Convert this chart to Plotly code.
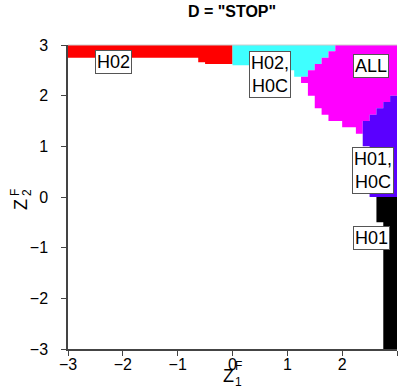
import plotly.graph_objects as go

# ---------------- data ----------------
title_text = 'D = "STOP"'
tick_vals = [-3, -2, -1, 0, 1, 2, 3]
tick_text = ["\u22123", "\u22122", "\u22121", "0", "1", "2", "3"]

region_names = ["H02", "H02,<br>H0C", "ALL", "H01,<br>H0C", "H01"]
region_colors = ["#ff0000", "#3fffff", "#ff00ff", "#5a00ff", "#000000"]

# region boundaries (Z1, Z2) as step outlines
h02_x = [-3, 0, 0, -0.5, -0.5, -0.625, -0.625, -3]
h02_y = [3, 3, 2.625, 2.625, 2.66, 2.66, 2.75, 2.75]

h02c_x = [0, 1.875, 1.875, 1.75, 1.75, 1.625, 1.625, 1.5, 1.5, 1.375, 1.375, 1.25,
          1.25, 1.125, 1.125, 0.375, 0.375, 0]
h02c_y = [3, 3, 2.875, 2.875, 2.75, 2.75, 2.625, 2.625, 2.5, 2.5, 2.375, 2.375,
          2.375, 2.375, 2.5, 2.5, 2.6, 2.6]

all_x = [1.875, 3, 3, 2.875, 2.875, 2.75, 2.75, 2.625, 2.625, 2.5, 2.5, 2.375, 2.375,
         2.25, 2.25, 2.0, 2.0, 1.75, 1.75, 1.625, 1.625, 1.5, 1.5, 1.375, 1.375, 1.25,
         1.25, 1.375, 1.375, 1.5, 1.5, 1.625, 1.625, 1.75, 1.75, 1.875]
all_y = [3, 3, 2.0, 2.0, 1.875, 1.875, 1.75, 1.75, 1.625, 1.625, 1.5, 1.5, 1.25,
         1.25, 1.375, 1.375, 1.5, 1.5, 1.625, 1.625, 1.75, 1.75, 2.0, 2.0, 2.25, 2.25,
         2.375, 2.375, 2.5, 2.5, 2.625, 2.625, 2.75, 2.75, 2.875, 2.875]

h01c_x = [2.375, 2.5, 2.5, 2.625, 2.625, 2.75, 2.75, 2.875, 2.875, 3, 3, 2.5, 2.5, 2.375]
h01c_y = [1.5, 1.5, 1.625, 1.625, 1.75, 1.75, 1.875, 1.875, 2.0, 2.0, 0, 0, 1.0, 1.0]

h01_x = [2.625, 3, 3, 2.75, 2.75, 2.625]
h01_y = [0, 0, -3, -3, -0.5, -0.5]

regions_x = [h02_x, h02c_x, all_x, h01c_x, h01_x]
regions_y = [h02_y, h02c_y, all_y, h01c_y, h01_y]

# ---------------- figure ----------------
FONT = "Liberation Sans, Arial, Helvetica, sans-serif"
W, H = 401, 389
L, R, T, B = 68, 4, 45, 40
PW, PH = W - L - R, H - T - B


def px(xp):
    return (xp - L) / PW


def py(yp):
    return (H - B - yp) / PH


fig = go.Figure()
for rx, ry, col in zip(regions_x, regions_y, region_colors):
    fig.add_trace(go.Scatter(x=rx, y=ry, mode="lines", fill="toself",
                             fillcolor=col, line=dict(width=0, color=col),
                             hoverinfo="skip", showlegend=False))

label_pos = [(-2.17, 2.67), (0.69, 2.42), (2.52, 2.59), (2.57, 0.515), (2.53, -0.80)]
for name, (lx, ly) in zip(region_names, label_pos):
    fig.add_annotation(x=lx, y=ly, xref="x", yref="y", text=name, showarrow=False,
                       xanchor="center", yanchor="middle",
                       font=dict(family=FONT, size=18, color="black"),
                       bgcolor="white", bordercolor="#555", borderwidth=1, borderpad=1)


def ann(xp, yp, text, size, angle=0):
    fig.add_annotation(x=px(xp), y=py(yp), xref="paper", yref="paper", text=text,
                       showarrow=False, xanchor="center", yanchor="middle",
                       textangle=angle,
                       font=dict(family=FONT, size=size, color="black"))


# axis titles (stacked super/subscripts)
ann(228, 376, "Z", 18)
ann(238, 366, "F", 12)
ann(238, 382, "1", 12)

ann(21, 205, "Z", 18, -90)
ann(15, 193, "F", 12, -90)
ann(27, 193, "2", 12, -90)

fig.add_shape(type="line", xref="paper", yref="paper", x0=0, x1=1, y0=1, y1=1,
              line=dict(color="#cccccc", width=1))

axis_common = dict(range=[-3, 3], tickvals=tick_vals, ticktext=tick_text,
                   showgrid=False, zeroline=False, showline=True, linecolor="#444",
                   linewidth=1.5, ticks="outside", ticklen=5, tickcolor="#444",
                   tickwidth=1, tickfont=dict(family=FONT, size=16, color="black"),
                   fixedrange=True)

fig.update_layout(
    width=W, height=H,
    margin=dict(l=L, r=R, t=T, b=B, pad=0),
    paper_bgcolor="white", plot_bgcolor="white",
    title=dict(text="<b>" + title_text + "</b>",
               x=px(232), xref="paper", xanchor="center",
               y=1 - 11 / H, yref="container", yanchor="middle",
               font=dict(family=FONT, size=16, color="black")),
    xaxis=dict(axis_common, ticklabelstandoff=-5),
    yaxis=dict(axis_common, ticklabelstandoff=10),
)

fig.write_html("out.html")
